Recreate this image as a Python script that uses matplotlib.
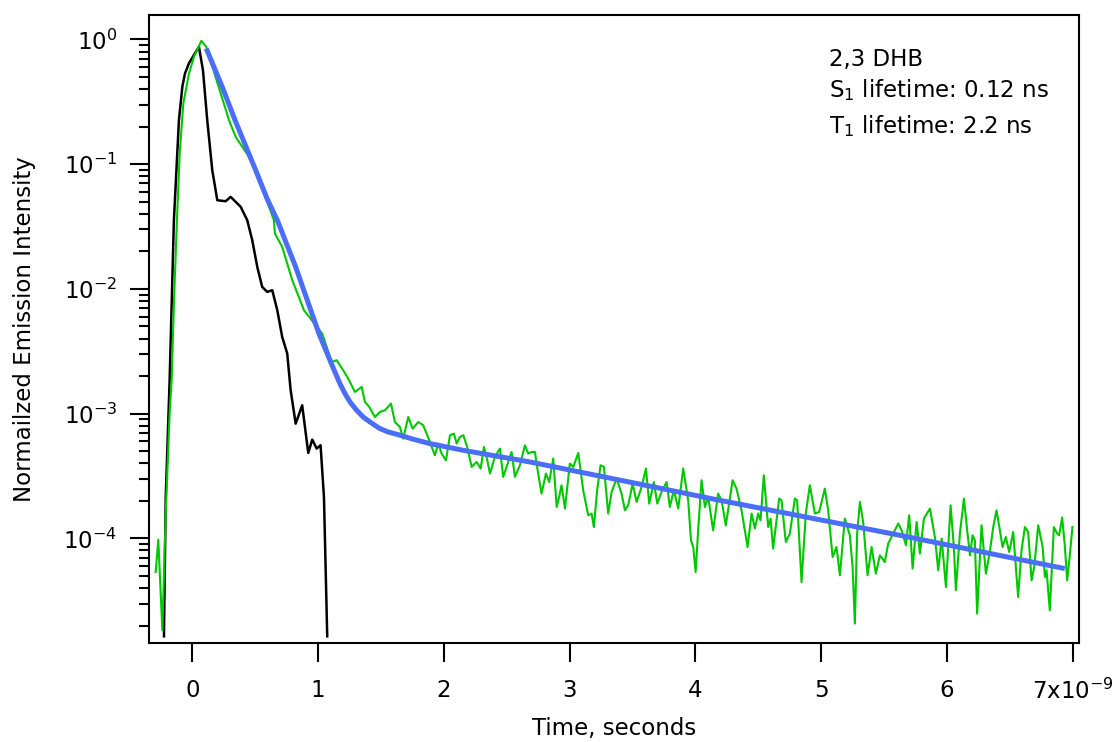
import numpy as np
import matplotlib
matplotlib.use('Agg')
import matplotlib.pyplot as plt
from matplotlib.ticker import LogLocator, FixedLocator, FixedFormatter, NullFormatter

plt.rcParams['font.family'] = 'DejaVu Sans'
plt.rcParams['mathtext.default'] = 'regular'

# time in ns, intensity as log10 values
black_t = [-0.225, -0.211, -0.18, -0.146, -0.106, -0.079, -0.058, -0.026, 0.053,
           0.085, 0.119, 0.159, 0.199, 0.266, 0.305, 0.385, 0.437, 0.477, 0.517,
           0.556, 0.596, 0.636, 0.676, 0.715, 0.755, 0.782, 0.822, 0.874, 0.922,
           0.954, 0.989, 1.02, 1.047, 1.073]
black_log = [-4.785, -3.67, -2.73, -1.449, -0.647, -0.38, -0.273, -0.19, -0.059,
             -0.246, -0.647, -1.048, -1.289, -1.297, -1.262, -1.342, -1.449, -1.61, -1.824,
             -1.984, -2.024, -2.01, -2.171, -2.385, -2.518, -2.81, -3.08, -2.933, -3.315,
             -3.208, -3.28, -3.253, -3.668, -4.785]

green_t = [-0.291, -0.27, -0.238, -0.211, -0.18, -0.164, -0.145, -0.12, -0.1, -0.071,
           -0.026, 0.0135, 0.072, 0.111, 0.226, 0.292, 0.345, 0.451, 0.544, 0.649,
           0.657, 0.715, 0.795, 0.888, 1.033, 1.108, 1.148, 1.2, 1.24, 1.293,
           1.347, 1.373, 1.407, 1.452, 1.492, 1.532, 1.58, 1.611, 1.651, 1.677,
           1.717, 1.752, 1.797, 1.836, 1.884, 1.929, 1.956, 1.982, 2.017, 2.049,
           2.08, 2.102, 2.128, 2.155, 2.186, 2.221, 2.261, 2.293, 2.319, 2.34,
           2.367, 2.406, 2.446, 2.472, 2.512, 2.539, 2.565, 2.605, 2.645, 2.671,
           2.698, 2.724, 2.75, 2.777, 2.812, 2.838, 2.87, 2.897, 2.917, 2.936,
           2.963, 3.002, 3.029, 3.069, 3.108, 3.148, 3.175, 3.193, 3.219, 3.246,
           3.273, 3.307, 3.334, 3.374, 3.413, 3.44, 3.466, 3.501, 3.533, 3.572,
           3.607, 3.633, 3.67, 3.697, 3.731, 3.771, 3.797, 3.829, 3.864, 3.903,
           3.943, 3.965, 3.983, 4.002, 4.022, 4.049, 4.076, 4.102, 4.141, 4.181,
           4.208, 4.242, 4.296, 4.327, 4.367, 4.415, 4.447, 4.473, 4.499, 4.518,
           4.544, 4.579, 4.598, 4.618, 4.666, 4.685, 4.719, 4.751, 4.791, 4.809,
           4.844, 4.878, 4.91, 4.95, 4.984, 5.029, 5.056, 5.091, 5.122, 5.149,
           5.188, 5.228, 5.25, 5.268, 5.286, 5.308, 5.334, 5.369, 5.401, 5.435,
           5.467, 5.506, 5.533, 5.573, 5.613, 5.64, 5.674, 5.7, 5.727, 5.759,
           5.785, 5.817, 5.865, 5.904, 5.931, 5.958, 5.992, 6.029, 6.055, 6.071,
           6.103, 6.135, 6.161, 6.183, 6.204, 6.222, 6.24, 6.275, 6.31, 6.341,
           6.368, 6.394, 6.421, 6.442, 6.468, 6.495, 6.527, 6.548, 6.566, 6.593,
           6.62, 6.646, 6.673, 6.694, 6.726, 6.761, 6.779, 6.792, 6.818, 6.85,
           6.877, 6.892, 6.916, 6.937, 6.956, 6.977, 6.998]
green_log = [-4.27, -4.01, -4.737, -3.80, -3.0, -2.73, -2.09, -1.40, -0.914, -0.513,
             -0.273, -0.139, -0.011, -0.059, -0.433, -0.647, -0.781, -0.941, -1.155, -1.449,
             -1.556, -1.663, -1.93, -2.171, -2.358, -2.585, -2.572, -2.652, -2.719, -2.826,
             -2.786, -2.906, -2.946, -3.027, -2.986, -2.973, -2.919, -3.067, -3.107, -3.2,
             -3.027, -3.12, -3.067, -3.093, -3.213, -3.334, -3.24, -3.32, -3.374, -3.173,
             -3.16, -3.24, -3.187, -3.173, -3.267, -3.427, -3.387, -3.44, -3.267, -3.347,
             -3.48, -3.347, -3.28, -3.507, -3.387, -3.307, -3.507, -3.414, -3.254, -3.32,
             -3.307, -3.307, -3.48, -3.641, -3.48, -3.548, -3.36, -3.748, -3.668, -3.574,
             -3.761, -3.40, -3.427, -3.315, -3.614, -3.815, -3.801, -3.909, -3.614, -3.414,
             -3.427, -3.801, -3.627, -3.52, -3.641, -3.775, -3.735, -3.561, -3.708, -3.588,
             -3.44, -3.721, -3.548, -3.721, -3.627, -3.548, -3.748, -3.614, -3.761, -3.44,
             -3.695, -4.015, -4.069, -4.27, -3.935, -3.534, -3.748, -3.668, -3.935, -3.641,
             -3.695, -3.895, -3.534, -3.601, -3.775, -4.069, -3.801, -3.921, -3.801, -3.855,
             -3.494, -3.909, -3.841, -4.082, -3.681, -3.695, -4.029, -3.962, -3.681, -3.695,
             -4.35, -3.801, -3.574, -3.801, -3.788, -3.601, -3.775, -4.149, -4.069, -4.296,
             -3.841, -3.975, -4.23, -4.683, -3.962, -3.708, -3.868, -4.296, -4.069, -4.283,
             -4.136, -4.189, -4.042, -3.962, -3.881, -3.935, -4.055, -3.815, -4.242, -3.868,
             -4.122, -3.841, -3.761, -3.989, -4.256, -4.002, -4.39, -3.735, -4.069, -4.416,
             -3.962, -3.681, -3.935, -4.136, -3.975, -4.015, -4.603, -3.895, -4.283, -4.109,
             -3.909, -3.775, -3.935, -4.069, -3.989, -4.109, -3.949, -4.23, -4.47, -4.095,
             -3.909, -3.949, -4.336, -4.23, -3.895, -4.069, -4.31, -4.256, -4.577, -3.909,
             -3.962, -3.975, -3.833, -4.055, -4.336, -4.136, -3.909]

blue_t = [0.111, 0.238, 0.340, 0.504, 0.596, 0.676, 0.822, 1.007, 1.095, 1.134,
          1.174, 1.214, 1.254, 1.307, 1.359, 1.413, 1.492, 1.558, 1.625, 1.757,
          1.89, 2.155, 2.684, 4.195, 5.625, 6.937]
blue_log = [-0.072, -0.38, -0.647, -1.048, -1.280, -1.449, -1.824, -2.358, -2.572, -2.666,
            -2.759, -2.839, -2.906, -2.973, -3.027, -3.067, -3.12, -3.147, -3.165, -3.205,
            -3.24, -3.294, -3.387, -3.695, -3.975, -4.242]

xticks = [0, 1, 2, 3, 4, 5, 6, 7]
xticklabels = ['0', '1', '2', '3', '4', '5', '6', r'$7x10^{-9}$']

fig = plt.figure(figsize=(11.14, 7.42), dpi=100)
ax = fig.add_axes([149/1114, 1-643/742, 930/1114, 628/742])

ax.plot(black_t, 10**np.array(black_log), color='black', lw=1.8, zorder=2)
ax.plot(green_t, 10**np.array(green_log), color='#00c800', lw=1.5, zorder=3)
ax.plot(blue_t, 10**np.array(blue_log), color='#4a6ef5', lw=3.6, zorder=4,
        solid_capstyle='butt')

ax.set_yscale('log')
ax.set_xlim(-0.344, 7.05)
ax.set_ylim(1.45e-5, 1.57)

ax.xaxis.set_major_locator(FixedLocator(xticks))
ax.xaxis.set_major_formatter(FixedFormatter(xticklabels))
ax.yaxis.set_major_locator(LogLocator(base=10, numticks=12))
ax.yaxis.set_minor_locator(LogLocator(base=10, subs=np.arange(2, 10), numticks=12))
ax.yaxis.set_minor_formatter(NullFormatter())

ax.tick_params(which='major', direction='out', length=14, width=1.5, labelsize=16.5)
ax.tick_params(which='minor', direction='out', length=7, width=1.5)
ax.tick_params(axis='x', pad=12)
ax.tick_params(axis='y', pad=9)
for s in ax.spines.values():
    s.set_linewidth(1.5)

ax.set_xlabel('Time, seconds', fontsize=16.5)
ax.xaxis.set_label_coords(0.5, -0.1173)
ax.set_ylabel('Normailzed Emission Intensity', fontsize=16.5)
ax.yaxis.set_label_coords(-0.1215, 0.5)

fig.text(829/1114, 1-66/742, '2,3 DHB', fontsize=16.5, va='baseline')
fig.text(829/1114, 1-97/742, r'S$_1$ lifetime: 0.12 ns', fontsize=16.5, va='baseline')
fig.text(829/1114, 1-133/742, r'T$_1$ lifetime: 2.2 ns', fontsize=16.5, va='baseline')

fig.savefig('out.png', dpi=100)
